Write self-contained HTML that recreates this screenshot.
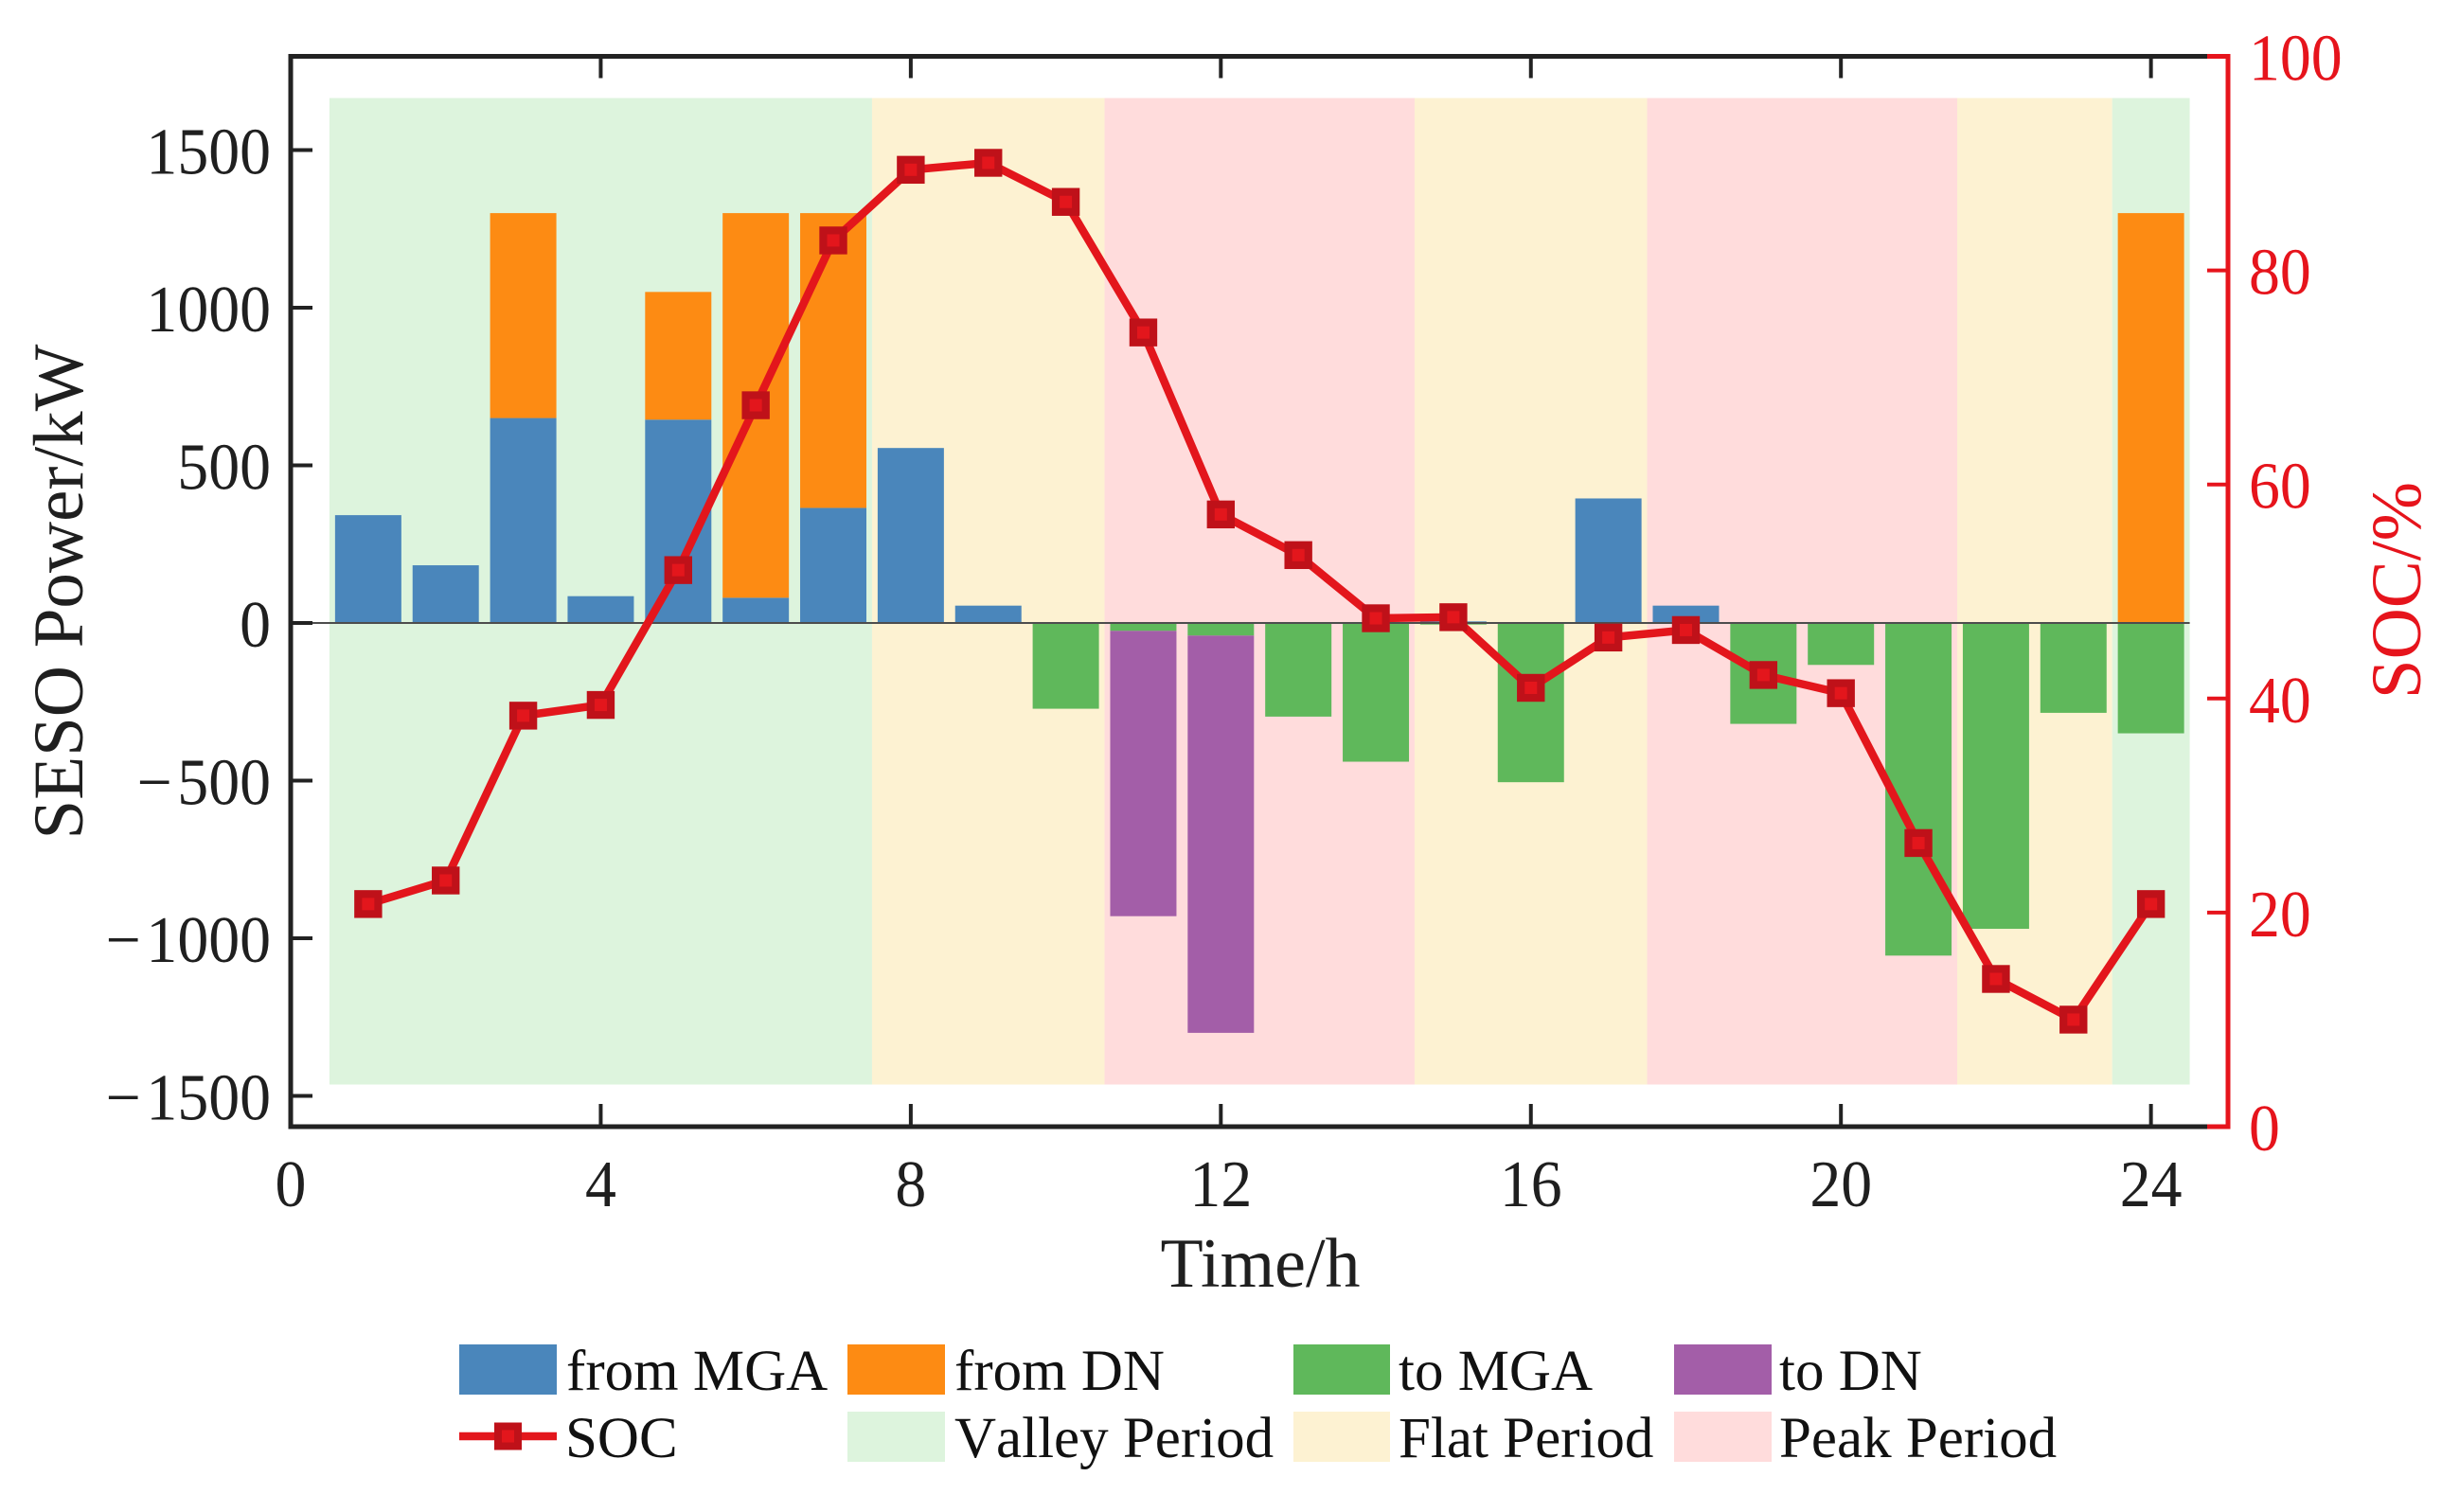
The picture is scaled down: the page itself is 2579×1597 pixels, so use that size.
<!DOCTYPE html>
<html lang="en">
<head>
<meta charset="utf-8">
<title>SESO Power and SOC</title>
<style>
html,body{margin:0;padding:0;background:#fff;width:2579px;height:1597px;overflow:hidden}
svg{display:block;font-family:"Liberation Serif","Times New Roman",serif}
</style>
</head>
<body>
<svg id="chart" xmlns="http://www.w3.org/2000/svg" width="2579" height="1597" viewBox="0 0 2579 1597">
  <rect x="0" y="0" width="2579" height="1597" fill="#fff"/>
  <g id="bands"></g>
  <g id="bars"></g>
  <line id="zero" stroke="#4d4d4d" stroke-width="2"/>
  <g id="axes"></g>
  <g id="soc"></g>
  <text x="1331" y="1359" font-size="74" text-anchor="middle" fill="#1f1f1f">Time/h</text>
  <text transform="translate(87,625) rotate(-90)" font-size="75" text-anchor="middle" fill="#1f1f1f">SESO Power/kW</text>
  <text transform="translate(2556,623.5) rotate(-90)" font-size="75" text-anchor="middle" fill="#e6141c">SOC/%</text>
  <g>
    <g>
      <rect x="485" y="1420" width="103" height="53" fill="#4a86bb"/>
      <text x="598" y="1468" font-size="61" fill="#111">from MGA</text>
    </g>
    <g>
      <rect x="895" y="1420" width="103" height="53" fill="#fd8b13"/>
      <text x="1008" y="1468" font-size="61" fill="#111">from DN</text>
    </g>
    <g>
      <rect x="1366" y="1420" width="102" height="53" fill="#5fb85b"/>
      <text x="1477" y="1468" font-size="61" fill="#111">to MGA</text>
    </g>
    <g>
      <rect x="1768" y="1420" width="103" height="53" fill="#a35ea8"/>
      <text x="1879" y="1468" font-size="61" fill="#111">to DN</text>
    </g>
    <g>
      <line x1="485" y1="1517" x2="588" y2="1517" stroke="#e3161c" stroke-width="8.5"/>
      <rect x="526" y="1506.5" width="21" height="21" fill="#e3161c" stroke="#bf1119" stroke-width="8"/>
      <text x="597" y="1539" font-size="61" fill="#111">SOC</text>
    </g>
    <g>
      <rect x="895" y="1491" width="103" height="53" fill="#ddf4dd"/>
      <text x="1008" y="1539" font-size="61" fill="#111" style="font-kerning:none">Valley Period</text>
    </g>
    <g>
      <rect x="1366" y="1491" width="102" height="53" fill="#fdf2d2"/>
      <text x="1477" y="1539" font-size="61" fill="#111">Flat Period</text>
    </g>
    <g>
      <rect x="1768" y="1491" width="103" height="53" fill="#ffdcdc"/>
      <text x="1879" y="1539" font-size="61" fill="#111">Peak Period</text>
    </g>
  </g>
</svg>
<script>
const hours = [1,2,3,4,5,6,7,8,9,10,11,12,13,14,15,16,17,18,19,20,21,22,23,24];
const fromMGA = [342,183,650,85,645,80,365,555,55,0,0,0,0,0,5,0,395,55,0,0,0,0,0,0];
const fromDN = [0,0,650,0,405,1220,935,0,0,0,0,0,0,0,0,0,0,0,0,0,0,0,0,1300];
const toMGA = [0,0,0,0,0,0,0,0,0,-272,-25,-40,-297,-440,-5,-505,0,0,-320,-133,-1055,-970,-285,-350];
const toDN = [0,0,0,0,0,0,0,0,0,0,-905,-1260,0,0,0,0,0,0,0,0,0,0,0,0];
const soc = [20.8,23,38.4,39.4,52,67.4,82.8,89.4,90.05,86.4,74.2,57.2,53.4,47.5,47.6,41,45.7,46.4,42.2,40.5,26.5,13.8,10,20.8];
const periodEdges = [0.5,7.5,10.5,14.5,17.5,21.5,23.5,24.5];
const periodKinds = ['valley','flat','peak','flat','peak','flat','valley'];
const xTicks = [0,4,8,12,16,20,24];
const yLeftTicks = [1500,1000,500,0,-500,-1000,-1500];
const yRightTicks = [0,20,40,60,80,100];

const NS = 'http://www.w3.org/2000/svg';
const X0 = 307, XSCALE = 81.86;
const Y0 = 658, YSCALE = 0.333;
const R0 = 1190, RSCALE = 11.305;
const PLOT_TOP = 59.5, PLOT_BOTTOM = 1190, PLOT_LEFT = 307, PLOT_RIGHT = 2353;
const BAR_W = 0.855;
const BAND_TOP = 1665, BAND_BOTTOM = -1464;
const TICK_FONT = 70, TICK_SQUEEZE = 0.94, MINUS_GAP = 6;
const periodFill = {valley:'#ddf4dd', flat:'#fdf2d2', peak:'#ffdcdc'};
const xs = h => X0 + h * XSCALE;
const yl = v => Y0 - v * YSCALE;
const yr = v => R0 - v * RSCALE;
function mk(tag, attrs, parent, txt) {
  const e = document.createElementNS(NS, tag);
  for (const k in attrs) e.setAttribute(k, attrs[k]);
  if (txt !== undefined) e.textContent = txt;
  parent.appendChild(e);
  return e;
}
const squeezed = (x, y) => 'translate(' + x + ',' + y + ') scale(' + TICK_SQUEEZE + ',1)';
const bands = document.getElementById('bands');
const bars = document.getElementById('bars');
const axes = document.getElementById('axes');
const socG = document.getElementById('soc');

periodKinds.forEach((k, i) => {
  const r = mk('rect', {x: xs(periodEdges[i]), y: yl(BAND_TOP), width: xs(periodEdges[i+1]) - xs(periodEdges[i]), height: yl(BAND_BOTTOM) - yl(BAND_TOP), fill: periodFill[k]}, bands);
  
  
});

function stackBar(h, base, val, color, name) {
  if (!val) return;
  const a = yl(base), b = yl(base + val);
  const r = mk('rect', {x: xs(h - BAR_W / 2), y: Math.min(a, b), width: BAR_W * XSCALE, height: Math.abs(a - b), fill: color}, bars);
  
  
}
hours.forEach((h, i) => {
  stackBar(h, 0, fromMGA[i], '#4a86bb', 'from-mga');
  stackBar(h, fromMGA[i], fromDN[i], '#fd8b13', 'from-dn');
  stackBar(h, 0, toMGA[i], '#5fb85b', 'to-mga');
  stackBar(h, toMGA[i], toDN[i], '#a35ea8', 'to-dn');
});

const zero = document.getElementById('zero');
zero.setAttribute('x1', PLOT_LEFT);
zero.setAttribute('x2', xs(24.5));
zero.setAttribute('y1', yl(0));
zero.setAttribute('y2', yl(0));

const BLACK = '#222', RED = '#e6141c', SPLIT = 2331;
function seg(x1, y1, x2, y2, color, w, name) {
  const l = mk('line', {x1, y1, x2, y2, stroke: color, 'stroke-width': w}, axes);
  
  
}
seg(PLOT_LEFT, PLOT_TOP - 2.5, PLOT_LEFT, PLOT_BOTTOM + 2.5, BLACK, 5, 'left-spine');
seg(PLOT_LEFT, PLOT_TOP, SPLIT, PLOT_TOP, BLACK, 5, 'top-spine');
seg(PLOT_LEFT, PLOT_BOTTOM, SPLIT, PLOT_BOTTOM, BLACK, 5, 'bottom-spine');
seg(PLOT_RIGHT, PLOT_TOP - 2.5, PLOT_RIGHT, PLOT_BOTTOM + 2.5, RED, 5, 'right-spine');

xTicks.forEach(t => {
  const x = xs(t);
  if (t > 0) {
    seg(x, PLOT_BOTTOM, x, PLOT_BOTTOM - 24, BLACK, 4, 'x-tick-bottom-' + t);
    seg(x, PLOT_TOP, x, PLOT_TOP + 23, BLACK, 4, 'x-tick-top-' + t);
  }
  const lab = mk('text', {transform: squeezed(x, 1274), 'font-size': TICK_FONT, 'text-anchor': 'middle', fill: '#1f1f1f'}, axes, String(t));
  
  
});
yLeftTicks.forEach(t => {
  const y = yl(t);
  seg(PLOT_LEFT, y, PLOT_LEFT + 23, y, BLACK, 4, 'left-y-tick-' + t);
  const lab = mk('text', {transform: squeezed(286, y + 25), 'font-size': TICK_FONT, 'text-anchor': 'end', fill: '#1f1f1f'}, axes);
  if (t < 0) {
    lab.appendChild(document.createTextNode('\u2212'));
    mk('tspan', {dx: MINUS_GAP}, lab, String(Math.abs(t)));
  } else {
    lab.textContent = String(t);
  }
  
  
});
yRightTicks.forEach(t => {
  const y = yr(t);
  seg(SPLIT, t === 100 ? PLOT_TOP : y, PLOT_RIGHT, t === 100 ? PLOT_TOP : y, RED, t === 0 || t === 100 ? 5 : 4, 'right-y-tick-' + t);
  const lab = mk('text', {transform: squeezed(2375, y + 25), 'font-size': TICK_FONT, fill: RED}, axes, String(t));
  
  
});

const line = mk('polyline', {points: hours.map((h, i) => xs(h) + ',' + yr(soc[i])).join(' '), fill: 'none', stroke: '#e3161c', 'stroke-width': 8.5, 'stroke-linejoin': 'round'}, socG);


hours.forEach((h, i) => {
  const m = mk('rect', {x: xs(h) - 10.6, y: yr(soc[i]) - 10.6, width: 21.2, height: 21.2, fill: '#e3161c', stroke: '#bf1119', 'stroke-width': 8.2}, socG);
  
  
});
</script>
</body>
</html>
